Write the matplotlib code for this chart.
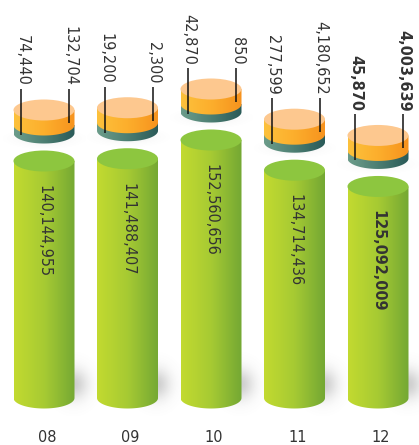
import numpy as np
import matplotlib
matplotlib.use("Agg")
import matplotlib.pyplot as plt
from matplotlib import font_manager
from matplotlib.patches import Ellipse, Polygon
from matplotlib.colors import LinearSegmentedColormap

# narrow face if there is one, otherwise plain Liberation Sans a bit smaller
cond = font_manager.FontProperties(family='DejaVu Sans', stretch='condensed')
if 'Condensed' in font_manager.findfont(cond, fallback_to_default=False):
    FAM, STRETCH, FS = 'DejaVu Sans', 'condensed', 11.6
else:
    FAM, STRETCH, FS = 'Liberation Sans', 'normal', 11.6
plt.rcParams['font.family'] = [FAM, 'DejaVu Sans']

# data
years = ["08", "09", "10", "11", "12"]
main_vals = [140144955, 141488407, 152560656, 134714436, 125092009]
left_vals = [74440, 19200, 42870, 277599, 45870]
right_vals = [132704, 2300, 850, 4180652, 4003639]
bold = [False, False, False, False, True]

W, H = 419, 445
fig = plt.figure(figsize=(W / 100, H / 100), dpi=100)
ax = fig.add_axes([0, 0, 1, 1])
ax.axis('off')

# scales: 83.5 px per category, pixel scale for the values
step_px = 83.5
x0_px = 44
px_per_m = 237 / 140.144955
base_px = 47
xlim = (-x0_px / step_px, (W - x0_px) / step_px)
ylim = (-base_px / px_per_m, (H - base_px) / px_per_m)
dx = 1 / step_px      # data units per pixel, x
dy = 1 / px_per_m     # data units per pixel, y

hw = 30.5 * dx        # cylinder half width
eh = 10.5 * dy        # ellipse semi-height

green_cm = LinearSegmentedColormap.from_list("g", ["#c2da30", "#a6ca33", "#74a834"])
orange_cm = LinearSegmentedColormap.from_list("o", ["#fdc13c", "#fcae2c", "#f7931e"])
teal_cm = LinearSegmentedColormap.from_list("t", ["#6c9c8a", "#4c7e72", "#2a5a58"])
grad = np.linspace(0, 1, 64).reshape(1, -1)
txt_col = "#333333"
tkw = dict(fontsize=FS, fontstretch=STRETCH, color=txt_col)


def body(xc, ybot, ytop, cmap, z):
    t = np.linspace(np.pi, 2 * np.pi, 60)
    pts = [(xc + hw * np.cos(a), ybot + eh * np.sin(a)) for a in t]
    pts += [(xc + hw, ytop), (xc - hw, ytop)]
    poly = Polygon(pts, closed=True, facecolor='none', edgecolor='none')
    ax.add_patch(poly)
    im = ax.imshow(grad, cmap=cmap, aspect='auto', zorder=z,
                   extent=[xc - hw, xc + hw, ybot - eh * 1.2, ytop + eh],
                   interpolation='bilinear')
    im.set_clip_path(poly)


def shadow(xc, yc, sx, sy, amax, z):
    gx = np.linspace(-3, 3, 80)
    gy = np.linspace(-3, 3, 60)
    X, Y = np.meshgrid(gx, gy)
    a = amax * np.exp(-(X ** 2 + Y ** 2) / 2)
    rgba = np.zeros((60, 80, 4))
    rgba[..., :3] = 0.45
    rgba[..., 3] = a
    ax.imshow(rgba, aspect='auto', zorder=z, interpolation='bilinear',
              extent=[xc - 3 * sx, xc + 3 * sx, yc - 3 * sy, yc + 3 * sy])


for i, yr in enumerate(years):
    v = main_vals[i] / 1e6
    fw = 'bold' if bold[i] else 'normal'

    # soft floor shadow to the right of the cylinder
    shadow(i + hw * 0.95, 0 + 14 * dy, 10 * dx, 11 * dy, 0.35, 1)

    # green cylinder
    body(i, 0, v, green_cm, 2)
    ax.add_patch(Ellipse((i, v), 2 * hw, 2 * eh, facecolor="#8dc63f",
                         edgecolor='none', zorder=3))
    ax.text(i, v - 24 * dy, f"{main_vals[i]:,}", rotation=-90,
            rotation_mode='anchor', ha='left', va='center',
            fontweight=fw, zorder=5, **tkw)

    # small disk on top
    dtop = v + 51 * dy
    dmid = dtop - 15 * dy
    dbot = dmid - 8 * dy
    shadow(i, dbot - 6 * dy, 16 * dx, 4 * dy, 0.12, 1)
    body(i, dbot, dmid, teal_cm, 2)
    body(i, dmid, dtop, orange_cm, 3)
    ax.add_patch(Ellipse((i, dtop), 2 * hw, 2 * eh, facecolor="#fdc88f",
                         edgecolor='none', zorder=4))

    tend = dtop + 24 * dy
    lx = i - 23 * dx
    rx = i + 25 * dx
    ax.plot([lx, lx], [tend - 3 * dy, dtop - 25 * dy], color='#111111',
            lw=1.1, zorder=6, solid_capstyle='butt')
    ax.plot([rx, rx], [tend - 3 * dy, dtop - 13 * dy], color='#111111',
            lw=1.1, zorder=6, solid_capstyle='butt')
    ax.text(lx + 1 * dx, tend, f"{left_vals[i]:,}", rotation=-90,
            rotation_mode='anchor', ha='right', va='center',
            fontweight=fw, zorder=5, **tkw)
    ax.text(rx + 1 * dx, tend, f"{right_vals[i]:,}", rotation=-90,
            rotation_mode='anchor', ha='right', va='center',
            fontweight=fw, zorder=5, **tkw)

    # year label
    ax.text(i + 3 * dx, -39 * dy, yr, ha='center', va='center', **tkw)

ax.set_xlim(*xlim)
ax.set_ylim(*ylim)
fig.savefig("out.png", dpi=100, facecolor='white')
